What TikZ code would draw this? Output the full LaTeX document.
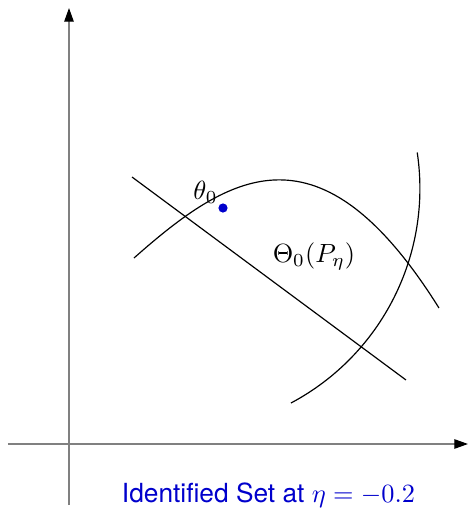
\documentclass[tikz,border=0pt]{standalone}
\usepackage{tikz}
\usetikzlibrary{arrows.meta}
\usepackage{xcolor}
\usepackage{amsmath,amssymb}
\usepackage{fontspec}
\setsansfont{TeX Gyre Heros}
\definecolor{idset}{HTML}{0000CC}
\definecolor{axis}{HTML}{808080}

\begin{document}
\begin{tikzpicture}[x=0.38pt,y=0.38pt,
    axisline/.style={axis,line width=0.5pt,-{Triangle[length=5.2pt,width=3.6pt,color=black]}},
    bound/.style={black,line width=0.45pt}]
  \useasboundingbox (0,0) rectangle (469,512);

  % Axes
  \coordinate (ybot) at (69,7);
  \coordinate (ytop) at (69,504);
  \coordinate (xleft) at (8,68);
  \coordinate (xright) at (468,68);
  \draw[axisline] (ybot) -- (ytop);
  \draw[axisline] (xleft) -- (xright);

  % Linear bound
  \coordinate (lstart) at (132,335);
  \coordinate (lend) at (406,132);
  \draw[bound] (lstart) -- (lend);

  % Concave bound
  \coordinate (cstart) at (134,254);
  \coordinate (cend) at (439,204);
  \draw[bound] (cstart) .. controls (230,339) and (320,394) .. (cend);

  % Convex bound
  \coordinate (vstart) at (291,109);
  \draw[bound] (vstart) arc[start angle=-62,end angle=8.5,radius=243];

  % True parameter
  \fill[idset] (223,304) circle (4.6);
  \node (theta) at (205.5,320) {$\theta_0$};

  % Labels
  \node (setlab) at (314,256) {$\Theta_0(P_\eta)$};
  \node[font=\sffamily,idset] (title) at (268.5,17) {Identified Set at $\eta=-0.2$};
\end{tikzpicture}
\end{document}
